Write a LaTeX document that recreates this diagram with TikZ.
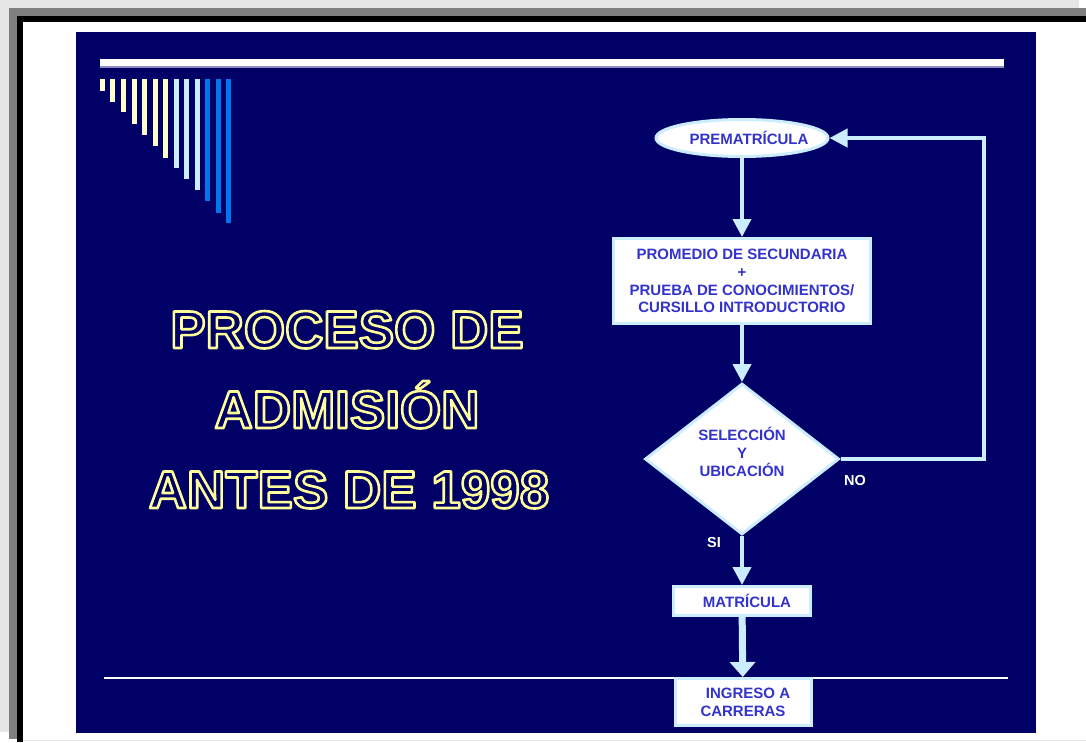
\documentclass[tikz,border=0pt]{standalone}
\usepackage{fontspec}
\setmainfont{Liberation Sans}
\usetikzlibrary{shapes.geometric,arrows.meta}
\definecolor{bgblue}{RGB}{0,0,102}
\definecolor{pyellow}{RGB}{255,255,204}
\definecolor{lblue}{RGB}{204,236,255}
\definecolor{sblue}{RGB}{0,119,238}
\definecolor{ftext}{RGB}{51,51,204}
\definecolor{ttl}{RGB}{255,255,153}
\definecolor{lgray}{RGB}{230,230,230}
\definecolor{mgray}{RGB}{128,128,128}
\definecolor{bargray}{RGB}{140,140,190}
\newcommand{\hollowtext}[1]{\special{pdf:code 1 Tr 2.6 w 1 j}#1\special{pdf:code 0 Tr 1 w 0 j}}
\begin{document}
\begin{tikzpicture}[x=1pt,y=-1pt,
  flowtxt/.style={text=ftext, font=\bfseries\fontsize{15}{17.7}\selectfont, align=center, inner sep=0pt},
  flowbox/.style={flowtxt, draw=lblue, line width=3pt, fill=white},
  arr/.style={draw=lblue, line width=4pt, -{Triangle[width=18pt,length=18pt]}},
  bigarr/.style={draw=lblue, line width=7pt, -{Triangle[width=25pt,length=15pt]}},
  ttlfont/.style={text=ttl, font=\bfseries\fontsize{53}{60}\selectfont, inner sep=0pt, anchor=base},
  lbl/.style={text=white, font=\bfseries\fontsize{14.5}{17}\selectfont, inner sep=0pt}]
\useasboundingbox (0,0) rectangle (1086,742);
% frame
\fill[white] (0,0) rectangle (1086,742);
\fill[lgray] (0,0) rectangle (1079,8);
\fill[lgray] (0,0) rectangle (9,732);
\fill[mgray] (9,8) rectangle (1086,16);
\fill[mgray] (9,8) rectangle (17,739);
\fill[black] (17,16) rectangle (1086,22);
\fill[black] (17,16) rectangle (23,742);
\fill[white] (23,22) rectangle (1086,742);
\draw[lgray, line width=1pt] (23,740.5) -- (1086,740.5);
% panel
\fill[bgblue] (76,32) rectangle (1036,733);
\fill[white] (100,59) rectangle (1004,66);
\fill[bargray] (100,66) rectangle (1004,67.5);
% stripes
\foreach \x/\b/\c in {100/91/pyellow, 110/102/pyellow, 121/112/pyellow, 132/124/pyellow, 142/135/pyellow, 153/146/pyellow, 163/158/pyellow, 174/168/lblue, 184/179/lblue, 195/190/lblue, 205/201/sblue, 216/213/sblue, 226/223/sblue}
  \fill[\c] (\x,79) rectangle (\x+5,\b);
% bottom line
\draw[white, line width=1.3pt] (104,678) -- (1008,678);
% title
\node[ttlfont] (t1) at (347,348) {\hollowtext{PROCESO DE}};
\node[ttlfont] (t2) at (347,428) {\hollowtext{ADMISIÓN}};
\node[ttlfont] (t3) at (349,508) {\hollowtext{ANTES DE 1998}};
% flowchart
\node[flowbox, ellipse, minimum width=172, minimum height=37] (pre) at (742,138) {\makebox[0pt]{\hspace*{14pt}PREMATRÍCULA}};
\node[flowbox, rectangle, minimum width=257, minimum height=85] (box1) at (742,281)
  {PROMEDIO DE SECUNDARIA\\+\\PRUEBA DE CONOCIMIENTOS/\\CURSILLO INTRODUCTORIO};
\node[flowbox, diamond, minimum width=194, minimum height=145] (dia) at (742,459)
  {SELECCIÓN\\Y\\UBICACIÓN\\[-3pt]};
\node[flowbox, rectangle, minimum width=137, minimum height=29] (mat) at (742,601) {\hspace*{10pt}MATRÍCULA};
\node[flowbox, rectangle, minimum width=136, minimum height=47] (ing) at (743,702) {\hspace*{10pt}INGRESO A\\CARRERAS};
\node[lbl] (no) at (855,480) {NO};
\node[lbl] (si) at (714,542) {SI};
\draw[arr] (pre) -- (box1);
\draw[arr] (box1) -- (dia);
\draw[arr] (dia) -- (mat);
\draw[bigarr] (mat) -- (ing);
\draw[arr] (dia.east) -- ++(143,0) |- (pre.east);
\end{tikzpicture}
\end{document}
